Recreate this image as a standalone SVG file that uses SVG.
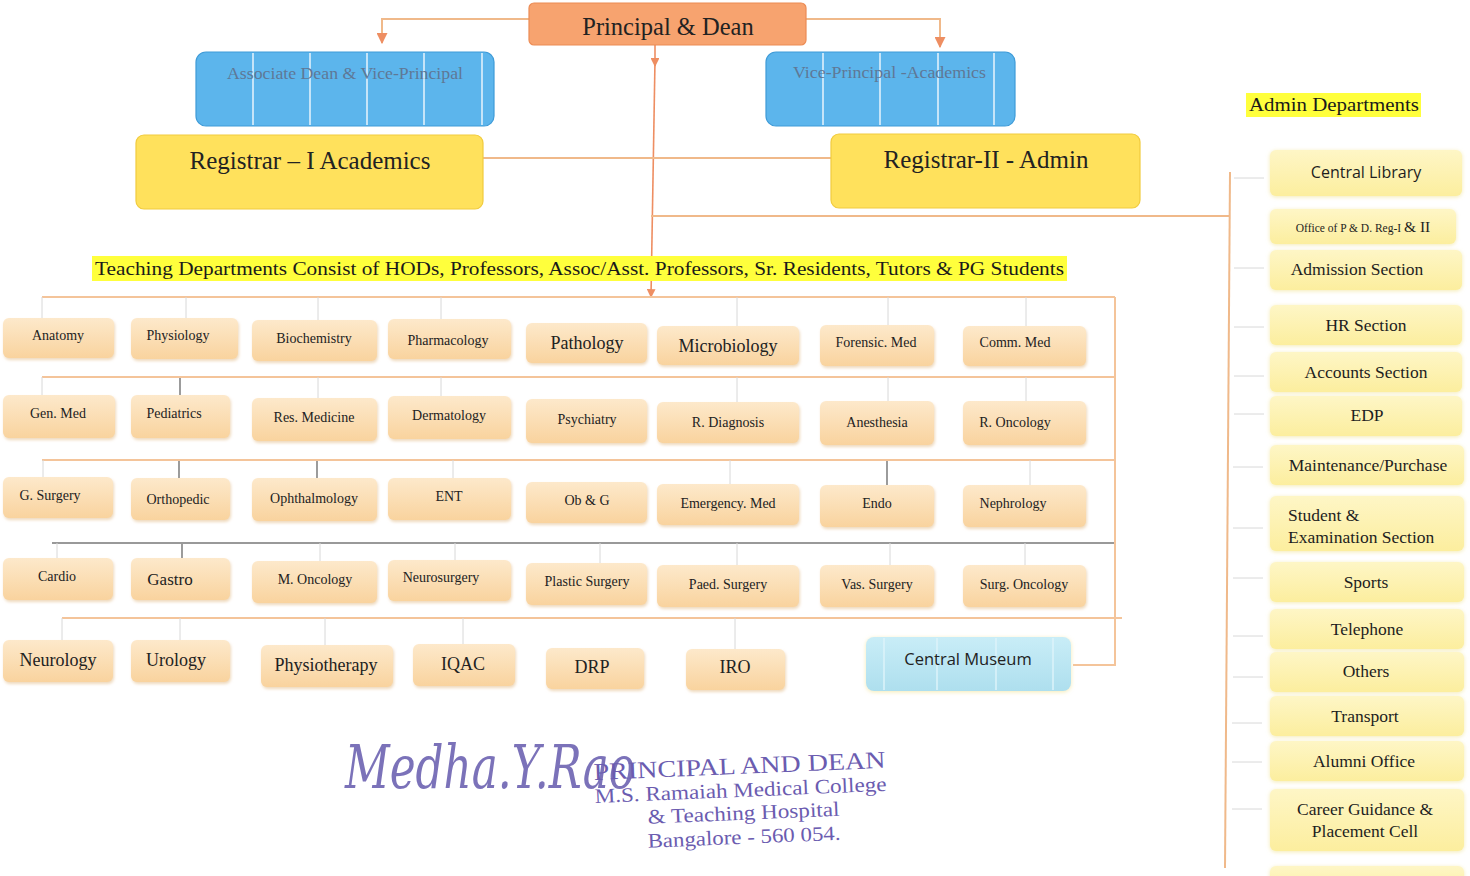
<svg xmlns="http://www.w3.org/2000/svg" width="1470" height="876" viewBox="0 0 1470 876">
<style>
  .serif{font-family:"Liberation Serif","Times New Roman",serif;}
  .sans{font-family:"Open Sans","Liberation Sans",Arial,sans-serif;}
  .dept rect{fill:url(#gPeach);filter:url(#sh);}
  .dept text{font-family:"Liberation Serif","Times New Roman",serif;font-size:14px;fill:#222;text-anchor:middle;}
  .dept text.big{font-size:18px;}
  .adm rect{fill:url(#gYel);filter:url(#sh2);}
  .adm text{font-family:"Liberation Serif","Times New Roman",serif;font-size:17.5px;fill:#1e1e1e;text-anchor:middle;}
  .or{stroke:#F0B98A;stroke-width:2;fill:none;}
  .orl{stroke:#F4C49A;stroke-width:2;fill:none;}
  .ar{stroke:#EE8E62;stroke-width:1.6;fill:none;}
  .tk{stroke:#D8D8D8;stroke-width:1;fill:none;}
  .tkd{stroke:#666;stroke-width:1.3;fill:none;}
  .wl{stroke:#E8F4FC;stroke-width:1.5;}
  .stamp{font-family:"Liberation Serif","Times New Roman",serif;fill:#6B5CB0;}
</style>
<defs>
  <linearGradient id="gPeach" x1="0" y1="0" x2="0" y2="1">
    <stop offset="0" stop-color="#FDE9CB"/>
    <stop offset="1" stop-color="#F9D39E"/>
  </linearGradient>
  <linearGradient id="gYel" x1="0" y1="0" x2="0" y2="1">
    <stop offset="0" stop-color="#FEF6C6"/>
    <stop offset="1" stop-color="#FCEE9E"/>
  </linearGradient>
  <linearGradient id="gMus" x1="0" y1="0" x2="0" y2="1">
    <stop offset="0" stop-color="#C9EDF7"/>
    <stop offset="1" stop-color="#AEDFEE"/>
  </linearGradient>
  <filter id="sh" x="-10%" y="-20%" width="120%" height="150%">
    <feDropShadow dx="1" dy="2" stdDeviation="1.5" flood-color="#E8C9A0" flood-opacity="0.7"/>
  </filter>
  <filter id="sh2" x="-10%" y="-20%" width="120%" height="150%">
    <feDropShadow dx="0" dy="1" stdDeviation="2" flood-color="#F2E6A0" flood-opacity="0.8"/>
  </filter>
  <marker id="arr" viewBox="0 0 10 10" refX="9" refY="5" markerWidth="5.5" markerHeight="5.5" orient="auto">
    <path d="M0,0 L10,5 L0,10 z" fill="#EE8E62"/>
  </marker>
</defs>
<rect width="1470" height="876" fill="#FFFFFF"/>

<g id="connectors">
  <polyline class="or" points="529,19 382,19 382,43" marker-end="url(#arr)"/>
  <polyline class="or" points="806,19 940,19 940,47" marker-end="url(#arr)"/>
  <line class="ar" x1="655" y1="45" x2="655" y2="66" marker-end="url(#arr)"/>
  <line class="ar" x1="655" y1="60" x2="651" y2="297" marker-end="url(#arr)"/>
  <line class="or" x1="483" y1="158" x2="831" y2="158"/>
  <line class="or" x1="651" y1="216" x2="1229" y2="216"/>
  <line class="or" x1="1230" y1="172" x2="1225" y2="868"/>
  <g class="tk">
    <line x1="1234" y1="178" x2="1264" y2="178"/>
    <line x1="1234" y1="268" x2="1264" y2="268"/>
    <line x1="1234" y1="327" x2="1264" y2="327"/>
    <line x1="1234" y1="376" x2="1264" y2="376"/>
    <line x1="1234" y1="414" x2="1264" y2="414"/>
    <line x1="1233" y1="467" x2="1263" y2="467"/>
    <line x1="1233" y1="528" x2="1263" y2="528"/>
    <line x1="1233" y1="578" x2="1263" y2="578"/>
    <line x1="1233" y1="636" x2="1263" y2="636"/>
    <line x1="1233" y1="677" x2="1263" y2="677"/>
    <line x1="1232" y1="723" x2="1262" y2="723"/>
    <line x1="1232" y1="762" x2="1262" y2="762"/>
    <line x1="1232" y1="809" x2="1262" y2="809"/>
  </g>
  <line class="orl" x1="42" y1="297" x2="1115" y2="297"/>
  <line class="orl" x1="42" y1="377" x2="1115" y2="377"/>
  <line class="orl" x1="42" y1="460" x2="1115" y2="460"/>
  <line x1="52" y1="543" x2="1115" y2="543" stroke="#777" stroke-width="1.3"/>
  <line class="orl" x1="62" y1="618" x2="1122" y2="618"/>
  <polyline class="orl" points="1115,297 1115,665 1073,665"/>
  <g class="tk">
    <line x1="42" y1="297" x2="42" y2="318"/>
    <line x1="186" y1="297" x2="186" y2="318"/>
    <line x1="318" y1="297" x2="318" y2="320"/>
    <line x1="441" y1="297" x2="441" y2="319"/>
    <line x1="737" y1="297" x2="737" y2="326"/>
    <line x1="888" y1="297" x2="888" y2="325"/>
    <line x1="1026" y1="297" x2="1026" y2="326"/>
    <line x1="42" y1="377" x2="42" y2="395"/>
    <line x1="318" y1="377" x2="318" y2="398"/>
    <line x1="441" y1="377" x2="441" y2="396"/>
    <line x1="737" y1="377" x2="737" y2="402"/>
    <line x1="888" y1="377" x2="888" y2="401"/>
    <line x1="1026" y1="377" x2="1026" y2="401"/>
    <line x1="43" y1="460" x2="43" y2="477"/>
    <line x1="453" y1="460" x2="453" y2="478"/>
    <line x1="730" y1="460" x2="730" y2="484"/>
    <line x1="1030" y1="460" x2="1030" y2="485"/>
    <line x1="57" y1="543" x2="57" y2="558"/>
    <line x1="320" y1="543" x2="320" y2="561"/>
    <line x1="455" y1="543" x2="455" y2="560"/>
    <line x1="600" y1="543" x2="600" y2="563"/>
    <line x1="737" y1="543" x2="737" y2="565"/>
    <line x1="890" y1="543" x2="890" y2="565"/>
    <line x1="1025" y1="543" x2="1025" y2="565"/>
    <line x1="62" y1="618" x2="62" y2="640"/>
    <line x1="180" y1="618" x2="180" y2="640"/>
    <line x1="325" y1="618" x2="325" y2="645"/>
    <line x1="463" y1="618" x2="463" y2="644"/>
    <line x1="735" y1="618" x2="735" y2="649"/>
  </g>
  <g class="tkd">
    <line x1="180" y1="378" x2="180" y2="395"/>
    <line x1="179" y1="461" x2="179" y2="478"/>
    <line x1="317" y1="461" x2="317" y2="478"/>
    <line x1="887" y1="461" x2="887" y2="485"/>
    <line x1="182" y1="544" x2="182" y2="558"/>
  </g>
</g>

<g id="n-principal">
  <rect x="529" y="3" width="277" height="42" rx="5" fill="#F7A36F" stroke="#EC8C55" stroke-width="1.2"/>
  <text x="668" y="35" class="serif" font-size="24.5" fill="#222" text-anchor="middle">Principal &amp; Dean</text>
</g>
<g id="n-assocdean">
  <rect x="196" y="52" width="298" height="74" rx="10" fill="#5CB5EC" stroke="#3E9BD8" stroke-width="1.2"/>
  <g class="wl"><line x1="253" y1="53" x2="253" y2="125"/><line x1="310" y1="53" x2="310" y2="125"/><line x1="367" y1="53" x2="367" y2="125"/><line x1="424" y1="53" x2="424" y2="125"/><line x1="482" y1="53" x2="482" y2="125"/></g>
  <text x="227" y="79" class="serif" font-size="17" fill="#5F7896" textLength="236" lengthAdjust="spacingAndGlyphs">Associate Dean &amp; Vice-Principal</text>
</g>
<g id="n-vpacad">
  <rect x="766" y="52" width="249" height="74" rx="10" fill="#5CB5EC" stroke="#3E9BD8" stroke-width="1.2"/>
  <g class="wl"><line x1="823" y1="53" x2="823" y2="125"/><line x1="880" y1="53" x2="880" y2="125"/><line x1="938" y1="53" x2="938" y2="125"/><line x1="994" y1="53" x2="994" y2="125"/></g>
  <text x="793" y="78" class="serif" font-size="17" fill="#5F7896" textLength="193" lengthAdjust="spacingAndGlyphs">Vice-Principal -Academics</text>
</g>
<g id="n-reg1">
  <rect x="136" y="135" width="347" height="74" rx="8" fill="#FFE15C" stroke="#F1CB3E" stroke-width="1.2"/>
  <text x="310" y="169" class="serif" font-size="25" fill="#222" text-anchor="middle">Registrar – I Academics</text>
</g>
<g id="n-reg2">
  <rect x="831" y="134" width="309" height="74" rx="8" fill="#FFE15C" stroke="#F1CB3E" stroke-width="1.2"/>
  <text x="986" y="168" class="serif" font-size="25" fill="#222" text-anchor="middle">Registrar-II - Admin</text>
</g>

<g id="n-teaching">
  <rect x="92" y="256" width="975" height="25" fill="#FFFF3C"/>
  <text x="95" y="275" class="serif" font-size="19.5" fill="#1a1a1a" textLength="969" lengthAdjust="spacingAndGlyphs">Teaching Departments Consist of HODs, Professors, Assoc/Asst. Professors, Sr. Residents, Tutors &amp; PG Students</text>
</g>
<g id="n-admindepts">
  <rect x="1246" y="93" width="175" height="24" fill="#FFFF3C"/>
  <text x="1249" y="111" class="serif" font-size="18.5" fill="#1a1a1a" textLength="170" lengthAdjust="spacingAndGlyphs">Admin Departments</text>
</g>

<g id="n-anatomy" class="dept"><rect x="3" y="318" width="111" height="40" rx="6"/><text x="58" y="340">Anatomy</text></g>
<g id="n-physiology" class="dept"><rect x="131" y="318" width="107" height="41" rx="6"/><text x="178" y="340">Physiology</text></g>
<g id="n-biochemistry" class="dept"><rect x="252" y="320" width="125" height="41" rx="6"/><text x="314" y="343">Biochemistry</text></g>
<g id="n-pharmacology" class="dept"><rect x="388" y="319" width="123" height="40" rx="6"/><text x="448" y="345">Pharmacology</text></g>
<g id="n-pathology" class="dept"><rect x="526" y="323" width="121" height="40" rx="6"/><text class="big" x="587" y="349">Pathology</text></g>
<g id="n-microbiology" class="dept"><rect x="657" y="326" width="142" height="39" rx="6"/><text class="big" x="728" y="352">Microbiology</text></g>
<g id="n-forensic" class="dept"><rect x="820" y="325" width="114" height="41" rx="6"/><text x="876" y="347">Forensic. Med</text></g>
<g id="n-commmed" class="dept"><rect x="963" y="326" width="123" height="40" rx="6"/><text x="1015" y="347">Comm. Med</text></g>

<g id="n-genmed" class="dept"><rect x="3" y="395" width="112" height="43" rx="6"/><text x="58" y="418">Gen. Med</text></g>
<g id="n-pediatrics" class="dept"><rect x="131" y="395" width="99" height="43" rx="6"/><text x="174" y="418">Pediatrics</text></g>
<g id="n-resmed" class="dept"><rect x="252" y="398" width="125" height="43" rx="6"/><text x="314" y="422">Res. Medicine</text></g>
<g id="n-dermatology" class="dept"><rect x="388" y="396" width="123" height="43" rx="6"/><text x="449" y="420">Dermatology</text></g>
<g id="n-psychiatry" class="dept"><rect x="526" y="399" width="121" height="44" rx="6"/><text x="587" y="424">Psychiatry</text></g>
<g id="n-rdiagnosis" class="dept"><rect x="657" y="402" width="142" height="41" rx="6"/><text x="728" y="427">R. Diagnosis</text></g>
<g id="n-anesthesia" class="dept"><rect x="820" y="401" width="114" height="44" rx="6"/><text x="877" y="427">Anesthesia</text></g>
<g id="n-roncology" class="dept"><rect x="963" y="401" width="123" height="44" rx="6"/><text x="1015" y="427">R. Oncology</text></g>

<g id="n-gsurgery" class="dept"><rect x="3" y="477" width="110" height="41" rx="6"/><text x="50" y="500">G. Surgery</text></g>
<g id="n-orthopedic" class="dept"><rect x="131" y="478" width="99" height="42" rx="6"/><text x="178" y="504">Orthopedic</text></g>
<g id="n-ophthalmology" class="dept"><rect x="252" y="478" width="125" height="43" rx="6"/><text x="314" y="503">Ophthalmology</text></g>
<g id="n-ent" class="dept"><rect x="388" y="478" width="123" height="42" rx="6"/><text x="449" y="501">ENT</text></g>
<g id="n-obg" class="dept"><rect x="526" y="482" width="121" height="41" rx="6"/><text x="587" y="505">Ob &amp; G</text></g>
<g id="n-emergency" class="dept"><rect x="657" y="484" width="142" height="41" rx="6"/><text x="728" y="508">Emergency. Med</text></g>
<g id="n-endo" class="dept"><rect x="820" y="485" width="114" height="42" rx="6"/><text x="877" y="508">Endo</text></g>
<g id="n-nephrology" class="dept"><rect x="963" y="485" width="123" height="42" rx="6"/><text x="1013" y="508">Nephrology</text></g>

<g id="n-cardio" class="dept"><rect x="3" y="558" width="110" height="42" rx="6"/><text x="57" y="581">Cardio</text></g>
<g id="n-gastro" class="dept"><rect x="131" y="558" width="99" height="42" rx="6"/><text class="big" x="170" y="585" style="font-size:17px">Gastro</text></g>
<g id="n-moncology" class="dept"><rect x="252" y="561" width="125" height="42" rx="6"/><text x="315" y="584">M. Oncology</text></g>
<g id="n-neurosurgery" class="dept"><rect x="388" y="560" width="123" height="41" rx="6"/><text x="441" y="582">Neurosurgery</text></g>
<g id="n-plastic" class="dept"><rect x="526" y="563" width="121" height="42" rx="6"/><text x="587" y="586">Plastic Surgery</text></g>
<g id="n-paed" class="dept"><rect x="657" y="565" width="142" height="42" rx="6"/><text x="728" y="589">Paed. Surgery</text></g>
<g id="n-vas" class="dept"><rect x="820" y="565" width="114" height="42" rx="6"/><text x="877" y="589">Vas. Surgery</text></g>
<g id="n-surgonc" class="dept"><rect x="963" y="565" width="123" height="42" rx="6"/><text x="1024" y="589">Surg. Oncology</text></g>

<g id="n-neurology" class="dept"><rect x="3" y="640" width="110" height="42" rx="6"/><text class="big" x="58" y="666">Neurology</text></g>
<g id="n-urology" class="dept"><rect x="131" y="640" width="99" height="42" rx="6"/><text class="big" x="176" y="666">Urology</text></g>
<g id="n-physiotherapy" class="dept"><rect x="261" y="645" width="132" height="42" rx="6"/><text class="big" x="326" y="671">Physiotherapy</text></g>
<g id="n-iqac" class="dept"><rect x="413" y="644" width="102" height="42" rx="6"/><text class="big" x="463" y="670">IQAC</text></g>
<g id="n-drp" class="dept"><rect x="546" y="648" width="98" height="41" rx="6"/><text class="big" x="592" y="673">DRP</text></g>
<g id="n-iro" class="dept"><rect x="686" y="649" width="99" height="41" rx="6"/><text class="big" x="735" y="673">IRO</text></g>
<g id="n-museum">
  <rect x="866" y="637" width="205" height="54" rx="8" fill="url(#gMus)" filter="url(#sh2)"/>
  <g stroke="#DDF3FA" stroke-width="1.5"><line x1="884" y1="638" x2="884" y2="690"/><line x1="937" y1="638" x2="937" y2="690"/><line x1="996" y1="638" x2="996" y2="690"/><line x1="1053" y1="638" x2="1053" y2="690"/></g>
  <text x="968" y="665" class="sans" font-size="16.5" fill="#222" text-anchor="middle">Central Museum</text>
</g>

<g id="n-library" class="adm"><rect x="1270" y="150" width="192" height="46" rx="6"/><text x="1366" y="178" style="font-family:'Open Sans','Liberation Sans',sans-serif;font-size:16px">Central Library</text></g>
<g id="n-office" class="adm"><rect x="1270" y="209" width="186" height="35" rx="6"/><text x="1363" y="232" style="font-size:11.5px">Office of P &amp; D. Reg-I <tspan style="font-size:15.5px">&amp; II</tspan></text></g>
<g id="n-admission" class="adm"><rect x="1270" y="250" width="192" height="40" rx="6"/><text x="1357" y="275">Admission Section</text></g>
<g id="n-hr" class="adm"><rect x="1270" y="305" width="192" height="40" rx="6"/><text x="1366" y="331">HR Section</text></g>
<g id="n-accounts" class="adm"><rect x="1270" y="352" width="192" height="40" rx="6"/><text x="1366" y="378">Accounts Section</text></g>
<g id="n-edp" class="adm"><rect x="1270" y="396" width="192" height="40" rx="6"/><text x="1367" y="421">EDP</text></g>
<g id="n-maintenance" class="adm"><rect x="1270" y="445" width="194" height="40" rx="6"/><text x="1368" y="471">Maintenance/Purchase</text></g>
<g id="n-student" class="adm"><rect x="1270" y="496" width="194" height="55" rx="6"/><text x="1288" y="521" style="text-anchor:start">Student &amp;</text><text x="1288" y="543" style="text-anchor:start">Examination Section</text></g>
<g id="n-sports" class="adm"><rect x="1270" y="562" width="194" height="40" rx="6"/><text x="1366" y="588">Sports</text></g>
<g id="n-telephone" class="adm"><rect x="1270" y="609" width="194" height="40" rx="6"/><text x="1367" y="635">Telephone</text></g>
<g id="n-others" class="adm"><rect x="1270" y="652" width="194" height="40" rx="6"/><text x="1366" y="677">Others</text></g>
<g id="n-transport" class="adm"><rect x="1270" y="696" width="194" height="40" rx="6"/><text x="1365" y="722">Transport</text></g>
<g id="n-alumni" class="adm"><rect x="1270" y="741" width="194" height="40" rx="6"/><text x="1364" y="767">Alumni Office</text></g>
<g id="n-career" class="adm"><rect x="1270" y="789" width="194" height="62" rx="6"/><text x="1365" y="815">Career Guidance &amp;</text><text x="1365" y="837">Placement Cell</text></g>
<g id="n-admin-more" class="adm"><rect x="1270" y="866" width="194" height="30" rx="6"/></g>

<g id="signature">
  <text x="345" y="788" font-family="'DejaVu Serif','Liberation Serif',serif" font-style="italic" font-size="60" fill="#5A4FA8" fill-opacity="0.8" textLength="290" lengthAdjust="spacingAndGlyphs">Medha.Y.Rao</text>
  <g transform="rotate(-2.4 594 780)">
    <text x="594" y="780" class="stamp" font-size="24" textLength="292" lengthAdjust="spacingAndGlyphs">PRINCIPAL AND DEAN</text>
    <text x="594" y="803" class="stamp" font-size="20.5" textLength="292" lengthAdjust="spacingAndGlyphs">M.S. Ramaiah Medical College</text>
    <text x="646" y="826" class="stamp" font-size="20.5" textLength="192" lengthAdjust="spacingAndGlyphs">&amp; Teaching Hospital</text>
    <text x="645" y="850" class="stamp" font-size="20.5" textLength="193" lengthAdjust="spacingAndGlyphs">Bangalore - 560 054.</text>
  </g>
</g>
</svg>
